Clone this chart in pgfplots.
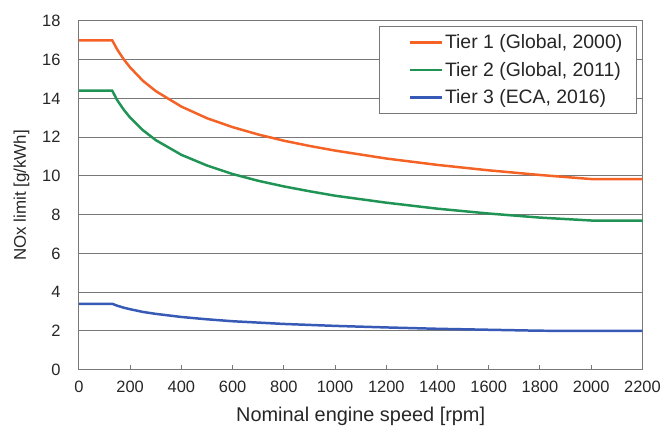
\documentclass[border=0pt]{standalone}
\usepackage{pgfplots}
\pgfplotsset{compat=1.18}
\usepackage{fontspec}
\setmainfont{Liberation Sans}
\definecolor{tierone}{RGB}{245,98,38}
\definecolor{tiertwo}{RGB}{32,148,85}
\definecolor{tierthree}{RGB}{55,90,182}
\definecolor{gridgray}{RGB}{120,120,120}
\begin{document}
\begin{tikzpicture}
\begin{axis}[
  scale only axis,
  width=564bp, height=349bp,
  xmin=0, xmax=2200, ymin=0, ymax=18,
  xtick={0,200,...,2200}, ytick={0,2,...,18},
  /pgf/number format/assume math mode=true,
  /pgf/number format/1000 sep={},
  tick label style={font=\fontsize{16.5}{18}\selectfont, text=black!85},
  xlabel={Nominal engine speed [rpm]},
  ylabel={NOx limit [g/kWh]},
  xlabel style={font=\fontsize{20}{22}\selectfont, text=black!85, yshift=-7bp},
  ylabel style={font=\fontsize{17}{19}\selectfont, text=black!85, yshift=6bp},
  axis line style={gridgray, line width=1pt},
  ymajorgrids, grid style={gridgray, line width=1pt},
  tick style={gridgray, line width=1pt},
  xtick pos=bottom, ytick pos=left,
  tick align=inside, major tick length=5bp,
  ytick style={draw=none},
  xticklabel style={yshift=-8bp},
  yticklabel style={xshift=-15bp},
  legend style={at={(0.99,0.985)}, anchor=north east, draw=gridgray, line width=1pt,
    font=\fontsize{19.5}{21}\selectfont, text=black!85, inner xsep=12bp, inner ysep=6bp,
    row sep=8bp, cells={anchor=west}, nodes={inner xsep=2bp}},
  legend image code/.code={\path (-17bp,0bp); \draw[#1, line width=2.5pt] (0bp,0bp) -- (32bp,0bp);},
  every axis plot/.append style={line width=2.5pt},
]
\addplot[tierone] coordinates {
 (0,17.0) (130,17.0) (150,16.52) (175,16.02) (200,15.60) (250,14.91) (300,14.38)
 (400,13.58) (500,12.98) (600,12.52) (700,12.14) (800,11.82) (900,11.55)
 (1000,11.31) (1200,10.90) (1400,10.57) (1600,10.29) (1800,10.05) (2000,9.84) (2200,9.84)};
\addlegendentry{Tier 1 (Global, 2000)}
\addplot[tiertwo] coordinates {
 (0,14.4) (130,14.4) (150,13.90) (175,13.42) (200,13.01) (250,12.36) (300,11.85)
 (400,11.09) (500,10.54) (600,10.10) (700,9.75) (800,9.46) (900,9.21)
 (1000,8.98) (1200,8.62) (1400,8.31) (1600,8.06) (1800,7.85) (2000,7.70) (2200,7.70)};
\addlegendentry{Tier 2 (Global, 2011)}
\addplot[tierthree] coordinates {
 (0,3.40) (130,3.40) (150,3.30) (175,3.20) (200,3.12) (250,2.98) (300,2.88)
 (400,2.72) (500,2.60) (600,2.50) (700,2.43) (800,2.36) (900,2.31)
 (1000,2.26) (1200,2.18) (1400,2.11) (1600,2.06) (1800,2.01) (2000,2.0) (2200,2.0)};
\addlegendentry{Tier 3 (ECA, 2016)}
\end{axis}
% fixed white margins around the plot area
\path (current axis.south west) ++(-79bp,-68bp);
\path (current axis.north east) ++(21bp,21bp);
\end{tikzpicture}
\end{document}
